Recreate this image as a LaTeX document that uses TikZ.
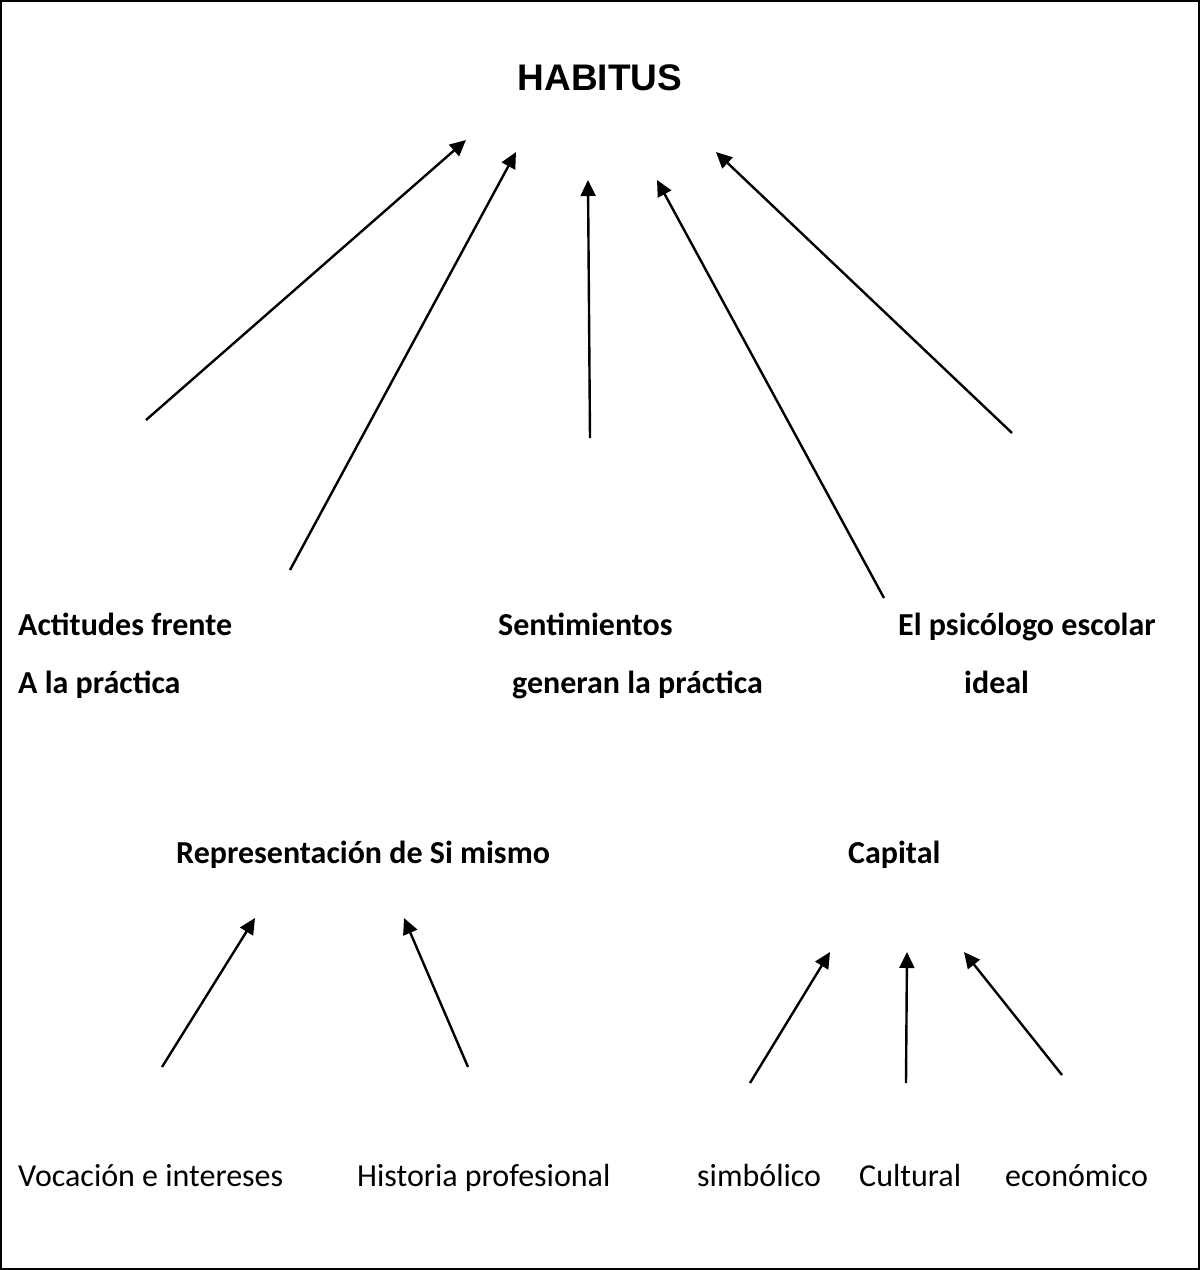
\documentclass[tikz,border=0pt]{standalone}
\usepackage{fontspec}
\setmainfont{Carlito}
\newfontfamily\titlefont{Liberation Sans}
\usetikzlibrary{arrows.meta}
\begin{document}
\begin{tikzpicture}[x=1pt,y=-1pt,
  lbl/.style={inner sep=0pt,anchor=base west,font=\fontsize{32}{36}\selectfont},
  blbl/.style={lbl,font=\fontsize{32}{36}\selectfont\bfseries},
  arr/.style={line width=2.4pt,-{Triangle[length=16pt,width=15pt]}}]
\useasboundingbox (0,0) rectangle (1200,1270);
\draw[line width=2.2pt] (1,1) rectangle (1199,1269);
\node[inner sep=0pt,anchor=base,font=\fontsize{37}{42}\selectfont\titlefont\bfseries] (habitus) at (600,90) {HABITUS};
\node[blbl] (act1) at (18,635) {Actitudes frente};
\node[blbl] (act2) at (18,693) {A la práctica};
\node[blbl] (sen1) at (498,635) {Sentimientos};
\node[blbl] (sen2) at (512,693) {generan la práctica};
\node[blbl] (psi1) at (898,635) {El psicólogo escolar};
\node[blbl] (psi2) at (964,693) {ideal};
\node[blbl] (rep) at (176,863) {Representación de Si mismo};
\node[blbl] (cap) at (848,863) {Capital};
\node[lbl] (voc) at (18,1186) {Vocación e intereses};
\node[lbl] (his) at (357,1186) {Historia profesional};
\node[lbl] (sim) at (697,1186) {simbólico};
\node[lbl] (cul) at (859,1186) {Cultural};
\node[lbl] (eco) at (1005,1186) {económico};
% arrow endpoints
\coordinate (a1s) at (146,420);  \coordinate (a1e) at (466,140);
\coordinate (a2s) at (290,570);  \coordinate (a2e) at (516,152);
\coordinate (a3s) at (590,438);  \coordinate (a3e) at (588,180);
\coordinate (a4s) at (884,598);  \coordinate (a4e) at (657,180);
\coordinate (a5s) at (1012,433); \coordinate (a5e) at (716,152);
\coordinate (a6s) at (162,1067); \coordinate (a6e) at (255,918);
\coordinate (a7s) at (468,1067); \coordinate (a7e) at (404,918);
\coordinate (a8s) at (750,1083); \coordinate (a8e) at (830,952);
\coordinate (a9s) at (906,1083); \coordinate (a9e) at (907,952);
\coordinate (a10s) at (1062,1075); \coordinate (a10e) at (964,952);
\foreach \i in {1,...,10} {\draw[arr] (a\i s) -- (a\i e);}
\end{tikzpicture}
\end{document}
